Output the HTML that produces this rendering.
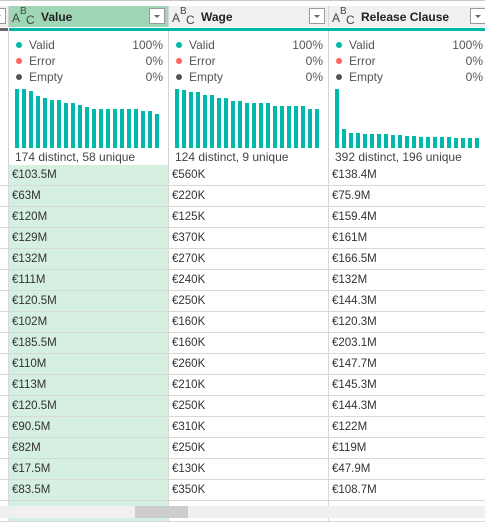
<!DOCTYPE html>
<html><head><meta charset="utf-8">
<style>
body{margin:0;width:485px;height:518px;overflow:hidden;background:#fff;font-family:"Liberation Sans",sans-serif;position:relative}
.abs{position:absolute}
.hdr{position:absolute;top:6px;height:21px;background:#f0f0f0;border-right:1px solid #d4d4d4}
.abc{position:absolute;left:0;top:0;width:26px;height:21px;color:#444}
.abc span{position:absolute;line-height:1}
.title{position:absolute;left:32px;top:4px;font-size:12px;font-weight:bold;color:#222}
.dd{position:absolute;top:2px;width:14px;height:14px;border:1px solid #999;background:#fff}
.dd:after{content:"";position:absolute;left:4px;top:6px;border-left:3px solid transparent;border-right:3px solid transparent;border-top:3px solid #666}
.stripe{position:absolute;top:28px;height:3px;background:#01b8aa}
.prof{position:absolute;top:31px;height:134px;border-right:1px solid #d4d4d4;font-size:12px;color:#555}
.q{position:absolute;left:6px;width:148px;height:16px}
.q i{position:absolute;left:1px;top:5px;width:6px;height:6px;border-radius:50%}
.q span{position:absolute;left:14px;top:1px}
.q b{position:absolute;right:0;top:1px;font-weight:normal}
.foot{position:absolute;left:6px;top:119px;font-size:12px;color:#444}
.cell{position:absolute;height:20px;border-bottom:1px solid #d8d8d8;border-right:1px solid #d8d8d8;font-size:11.5px;color:#333;line-height:21px;padding-left:3px;box-sizing:content-box}
#sb,#thumb{z-index:5}
</style></head><body>
<div class="abs" style="left:0;top:0;width:485px;height:1px;background:#c8c8c8"></div>
<div class="hdr" style="left:0;width:8px"><div class="dd" style="left:-10px"></div></div>
<div class="stripe" style="left:0;width:8px;background:#666"></div>
<div class="prof" style="left:0;width:8px"></div>

<div class="abs" id="sb" style="left:0;top:506px;width:485px;height:12px;background:#f0f0f0"></div>
<div class="abs" id="thumb" style="left:135px;top:506px;width:53px;height:12px;background:#cdcdcd"></div>

<script>
const columnNames=["Value","Wage","Release Clause"];
const distinctCounts=["174 distinct, 58 unique","124 distinct, 9 unique","392 distinct, 196 unique"];
const valueBars=[58.7,58.7,56.7,51.7,49.3,47.7,47.7,44.7,44.7,42.7,40.7,38.7,38.7,38.7,38.7,38.7,38.7,38.7,36.7,36.7,33.7];
const wageBars=[58.7,57.7,55.7,55.7,52.7,52.7,49.7,49.7,46.7,46.7,44.7,44.7,44.7,44.7,41.7,41.7,41.7,41.7,41.7,38.7,38.7];
const releaseBars=[58.7,18.7,14.7,14.7,13.7,13.7,13.7,13.7,12.7,12.7,11.7,11.7,10.7,10.7,10.7,10.7,10.7,9.7,9.7,9.7,9.7];
const valueCells=["€103.5M","€63M","€120M","€129M","€132M","€111M","€120.5M","€102M","€185.5M","€110M","€113M","€120.5M","€90.5M","€82M","€17.5M","€83.5M",""];
const wageCells=["€560K","€220K","€125K","€370K","€270K","€240K","€250K","€160K","€160K","€260K","€210K","€250K","€310K","€250K","€130K","€350K",""];
const releaseCells=["€138.4M","€75.9M","€159.4M","€161M","€166.5M","€132M","€144.3M","€120.3M","€203.1M","€147.7M","€145.3M","€144.3M","€122M","€119M","€47.9M","€108.7M",""];
const bars=[valueBars,wageBars,releaseBars];
const cells=[valueCells,wageCells,releaseCells];
const maxBar=58.7, barAreaH=59, baseY=148;
const yScale=v=>v/maxBar*barAreaH;
const lefts=[9,169,329], widths=[159,159,160];
const root=document.body;
for(let c=0;c<3;c++){
  const L=lefts[c],W=widths[c];
  const h=document.createElement('div');h.className='hdr';
  
  
  h.style.left=L+'px';h.style.width=W+'px';
  if(c===0)h.style.background='#9fd6b6';
  h.innerHTML='<div class="abc"><span style="left:3px;top:6px;font-size:12px">A</span><span style="left:11px;top:1px;font-size:10px">B</span><span style="left:17px;top:8px;font-size:12px">C</span></div><div class="title"></div>';
  h.querySelector('.title').textContent=columnNames[c];
  const dd=document.createElement('div');dd.className='dd';dd.style.left=(W-19)+'px';
  
  
  h.appendChild(dd);root.appendChild(h);
  const s=document.createElement('div');s.className='stripe';
  
  
  s.style.left=L+'px';s.style.width=(W+1)+'px';root.appendChild(s);
  const p=document.createElement('div');p.className='prof';
  
  
  p.style.left=L+'px';p.style.width=W+'px';
  const qs=[["Valid","100%","#01b8aa"],["Error","0%","#fd625e"],["Empty","0%","#555"]];
  qs.forEach((q,i)=>{const d=document.createElement('div');d.className='q';d.style.top=(6+i*16)+'px';
    
    
    d.innerHTML='<i style="background:'+q[2]+'"></i><span>'+q[0]+'</span><b>'+q[1]+'</b>';p.appendChild(d);});
  bars[c].forEach((v,i)=>{const b=document.createElement('div');
    
    
    const hh=yScale(v);
    b.style.cssText='position:absolute;background:#01b8aa;width:4px;left:'+(6+i*7)+'px;top:'+(baseY-31-hh)+'px;height:'+hh+'px';
    p.appendChild(b);});
  const f=document.createElement('div');f.className='foot';f.textContent=distinctCounts[c];
  
  
  p.appendChild(f);root.appendChild(p);
  cells[c].forEach((t,r)=>{const e=document.createElement('div');e.className='cell';
    
    
    e.style.left=L+'px';e.style.top=(165+r*21)+'px';e.style.width=(W-3)+'px';
    if(c===0)e.style.background='#d5efe0';
    e.textContent=t;root.appendChild(e);});
}
for(let r=0;r<17;r++){const e=document.createElement('div');e.className='cell';
  
  
  e.style.left='0px';e.style.top=(165+r*21)+'px';e.style.width='5px';root.appendChild(e);}
</script>
</body></html>
